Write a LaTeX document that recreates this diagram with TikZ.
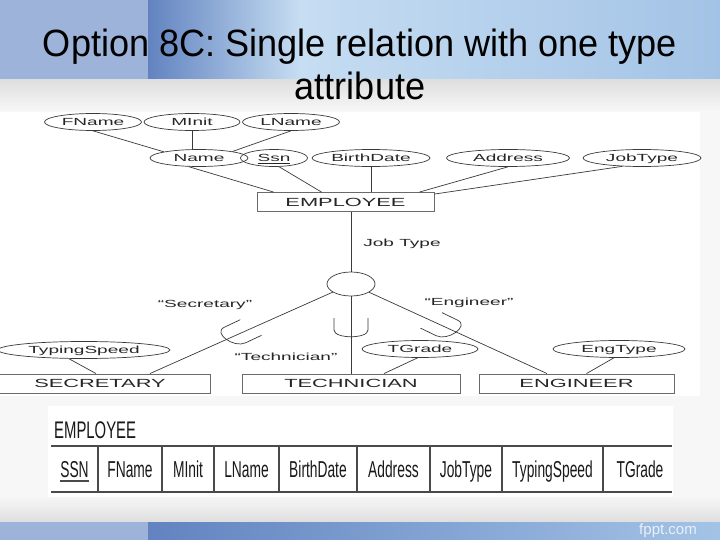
\documentclass[tikz,border=0pt]{standalone}
\usepackage{fontspec}
\setmainfont{Liberation Sans}
\usepackage{graphicx}
\usetikzlibrary{shapes.geometric,positioning}

\definecolor{bandlight}{HTML}{9DB3DA}
\definecolor{banddark}{HTML}{6283C0}
\definecolor{bandpale}{HTML}{C6DDF2}
\definecolor{bandmid}{HTML}{A3C3E6}
\definecolor{erline}{HTML}{3A3A3A}
\definecolor{boxline}{HTML}{6A6A6A}
\definecolor{tabline}{HTML}{4A4A4A}

\newcommand{\wide}[1]{\scalebox{1.85}[1]{#1}}
\newcommand{\boxtxt}[1]{\scalebox{1.85}[1]{#1}}
\newcommand{\narrow}[1]{\scalebox{0.6}[1]{#1}}

\begin{document}
\begin{tikzpicture}[x=1pt,y=-1pt,
    attr/.style={ellipse,draw=erline,line width=0.7pt,inner sep=0pt,minimum width=#1,minimum height=17pt,text height=7pt,text depth=0pt,text=black!85,font=\fontsize{10.3}{11}\selectfont},
    ent/.style={rectangle,draw=boxline,line width=0.9pt,inner sep=0pt,minimum width=#1,minimum height=19pt,text height=8.5pt,text depth=0pt,text=black!85,font=\fontsize{11.8}{12}\selectfont},
    disj/.style={ellipse,draw=erline,line width=0.7pt,inner sep=0pt,minimum width=48pt,minimum height=24pt},
    lbl/.style={inner sep=0pt,text height=7pt,text depth=0pt,text=black!85,font=\fontsize{10.3}{11}\selectfont},
    col/.style={anchor=base,inner sep=0pt,text=black!90,font=\fontsize{23}{23}\selectfont},
    ttl/.style={anchor=base,inner sep=0pt,font=\fontsize{38}{43}\selectfont},
    link/.style={draw=erline,line width=0.7pt},
    subcup/.pic={\draw[link] (-10,-12) -- (-10,0) .. controls (-10,9) and (10,9) .. (10,0) -- (10,-12);}]
\useasboundingbox (0,0) rectangle (720,540);

% slide background
\fill[gray!6] (0,0) rectangle (720,540);
\fill[bandlight] (0,0) rectangle (148,80);
\shade[left color=banddark,right color=bandpale] (148,0) rectangle (300,80);
\shade[left color=bandpale,right color=bandmid] (300,0) rectangle (720,80);
\shade[top color=gray!25,bottom color=gray!6] (0,80) rectangle (720,112);
\shade[top color=gray!6,bottom color=gray!26] (0,496) rectangle (720,522);
\fill[bandlight] (0,522) rectangle (148,540);
\shade[left color=banddark,right color=bandmid] (148,522) rectangle (720,540);
\fill[white] (0,112) rectangle (700,396);
\fill[white] (48,406) rectangle (673,497);

\node[ttl] (title) at (360,57) {\scalebox{0.95}[1]{Option 8C: Single relation with one type}};
\node[ttl] (title2) at (360,100) {\scalebox{0.95}[1]{attribute}};
\node[inner sep=0pt,text=white!80!bandlight,font=\fontsize{15}{15}\selectfont] (fppt) at (668,531) {fppt.com};

% EER diagram
\node[attr=97pt] (fname) at (93,122) {\wide{FName}};
\node[attr=96pt] (minit) at (192,122) {\wide{MInit}};
\node[attr=97pt] (lname) at (291,122) {\wide{LName}};
\node[attr=98pt] (name) at (199,158) {\wide{Name}};
\node[attr=67pt] (ssn) at (274,158) {\wide{\underline{Ssn}}};
\node[attr=118pt] (birth) at (371,158) {\wide{BirthDate}};
\node[attr=123pt] (addr) at (508,158) {\wide{Address}};
\node[attr=118pt] (jtype) at (642,158) {\wide{JobType}};
\node[ent=177pt] (emp) at (345.5,202) {\boxtxt{EMPLOYEE}};
\node[lbl] (jtlbl) at (402,243) {\wide{Job Type}};
\node[disj] (d) at (351,284) {};
\node[lbl] (qsec) at (205,304) {\wide{“Secretary”}};
\node[lbl] (qtech) at (286,357) {\wide{“Technician”}};
\node[lbl] (qeng) at (469,302) {\wide{“Engineer”}};
\node[attr=172pt] (tspeed) at (84,350) {\wide{TypingSpeed}};
\node[attr=116pt] (tgrade) at (420,349) {\wide{TGrade}};
\node[attr=132pt] (etype) at (619,349) {\wide{EngType}};
\node[ent=220pt] (sec) at (100,383.5) {\boxtxt{SECRETARY}};
\node[ent=218pt] (tech) at (351,383.5) {\boxtxt{TECHNICIAN}};
\node[ent=195pt] (eng) at (576.5,383.5) {\boxtxt{ENGINEER}};

\draw[link] (fname.south) -- (name.170);  % composite Name
\draw[link] (minit.south) -- (minit.south |- name.north);
\draw[link] (lname.south) -- (name.11);
\draw[link] (name.-140) -- ([xshift=-72]emp.north);  % attributes of EMPLOYEE
\draw[link] (ssn.-60) -- ([xshift=-24]emp.north);
\draw[link] (birth.south) -- (birth.south |- emp.north);
\draw[link] (addr.south) -- ([xshift=74]emp.north);
\draw[link] (jtype.203) -- ([yshift=-2]emp.north east);
\draw[link] (emp.south -| d.north) -- (d.north);  % defining attribute
\draw[link] (d) -- ([xshift=50]sec.north);  % subclasses
\draw[link] (d.south) -- (d.south |- tech.north);
\draw[link] (d) -- ([xshift=-29.5]eng.north);
\draw[link] (tspeed.-150) -- ([xshift=-4]sec.north);  % local attributes
\draw[link] (tgrade.-105) -- ([xshift=33]tech.north);
\draw[link] (etype.-120) -- ([xshift=10]eng.north);
\path (235,335) pic[xscale=1.7,rotate=-51.3] {subcup};
\path (351,330) pic[xscale=1.7] {subcup};
\path (447,328) pic[xscale=1.7,rotate=50.6] {subcup};

% relation EMPLOYEE
\node[anchor=base west,inner sep=0pt,text=black!90,font=\fontsize{24}{24}\selectfont] (tname) at (54,438) {\scalebox{0.62}[1]{EMPLOYEE}};
\draw[tabline,line width=2.5pt] (51,446) -- (672,446);
\draw[tabline,line width=1.6pt] (51,492) -- (672,492);
\draw[tabline,line width=1.1pt] (98,446) -- (98,492) (162,446) -- (162,492) (214,446) -- (214,492)
  (279,446) -- (279,492) (357,446) -- (357,492) (430,446) -- (430,492) (502,446) -- (502,492) (603,446) -- (603,492);
\node[col] (cssn) at (74.5,477) {\narrow{SSN}};
\node[col] (cfname) at (130,477) {\narrow{FName}};
\node[col] (cminit) at (188,477) {\narrow{MInit}};
\node[col] (clname) at (246.5,477) {\narrow{LName}};
\node[col] (cbirth) at (318,477) {\narrow{BirthDate}};
\node[col] (caddr) at (393.5,477) {\narrow{Address}};
\node[col] (cjtype) at (466,477) {\narrow{JobType}};
\node[col] (ctspeed) at (552.5,477) {\narrow{TypingSpeed}};
\node[col] (ctgrade) at (640,477) {\narrow{TGrade}};
\draw[tabline,line width=1.2pt] ([yshift=-4]cssn.base west) -- ([yshift=-4]cssn.base east);
\end{tikzpicture}
\end{document}
